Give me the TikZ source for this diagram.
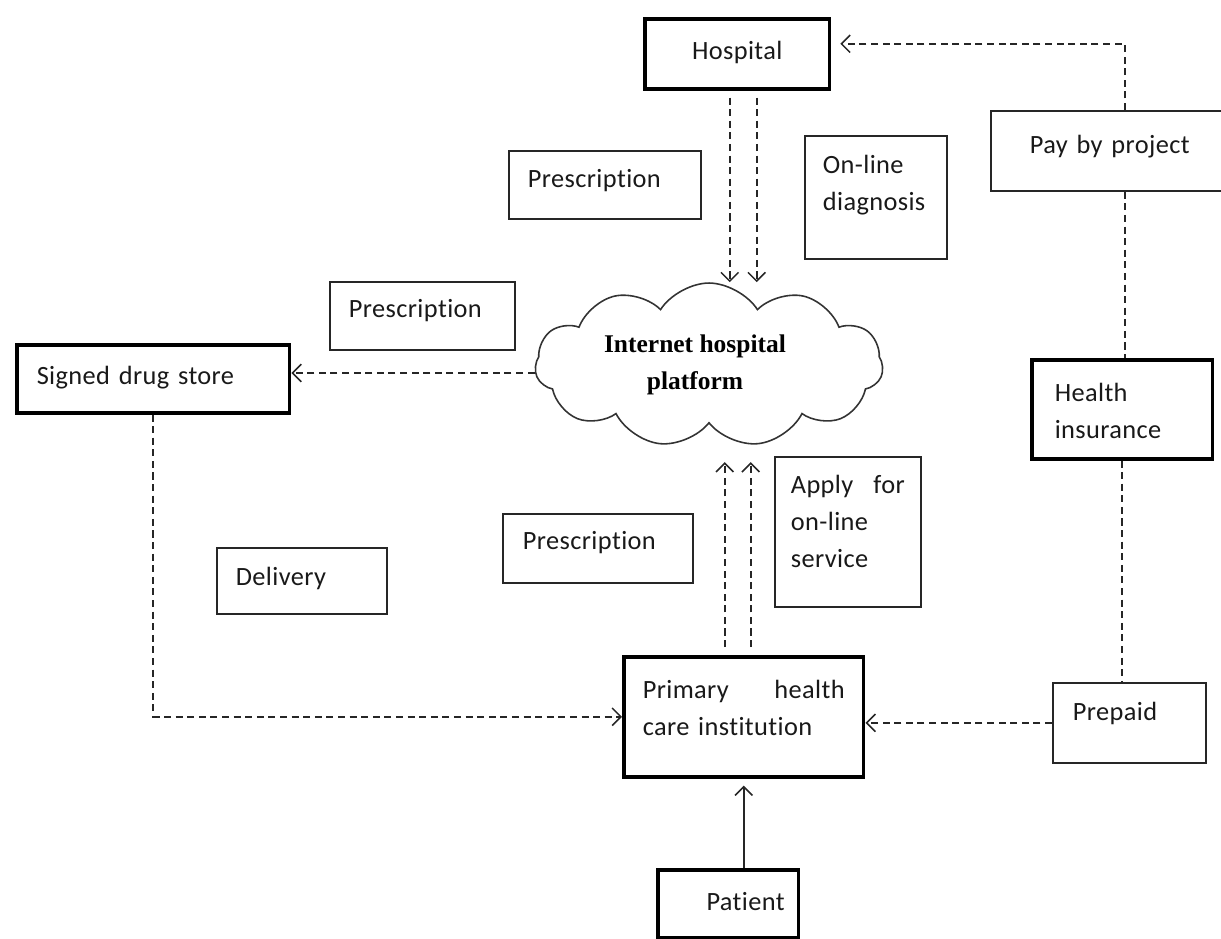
\documentclass[tikz,border=0pt]{standalone}
\usepackage{fontspec}
\newfontfamily\boxfont[LetterSpace=1.5,Ligatures=NoCommon]{Carlito}
\newfontfamily\cloudfont{Liberation Serif}
\usetikzlibrary{shapes.symbols,arrows.meta}
\begin{document}
\begin{tikzpicture}[x=0.02cm,y=-0.02cm,
  box/.style={draw=black!85, line width=1pt, anchor=north west, inner ysep=0pt,
    align=left, text=black!90,
    font={\boxfont\fontsize{15pt}{21pt}\selectfont\hyphenpenalty=10000 }},
  thickbox/.style={box, draw=black, line width=2pt},
  conn/.style={line width=0.9pt, draw=black!85, dash pattern=on 4pt off 2.6pt},
  dl/.style={conn, -{Straight Barb[length=5pt,width=10pt]}},
  sl/.style={line width=0.9pt, draw=black!85, -{Straight Barb[length=5pt,width=10pt]}}
]
\clip (0,0) rectangle (1221,938);

% boxes
\node[thickbox, align=center, inner xsep=0pt, text width=3.70cm, text height=0.82cm, text depth=0.58cm] (hosp) at (643,17) {Hospital};
\node[box, inner xsep=0.78cm, text width=3.44cm, text height=0.86cm, text depth=0.74cm] (pay) at (990,110) {Pay by project};
\node[box, inner xsep=0.38cm, text width=3.08cm, text height=0.74cm, text depth=0.62cm] (presa) at (508,150) {Prescription};
\node[box, inner xsep=0.36cm, text width=2.12cm, text height=0.76cm, text depth=1.70cm] (diag) at (804,135) {On-line\\diagnosis};
\node[box, inner xsep=0.38cm, text width=2.94cm, text height=0.72cm, text depth=0.64cm] (presb) at (329,281) {Prescription};
\node[thickbox, inner xsep=0.40cm, text width=4.66cm, text height=0.80cm, text depth=0.56cm] (drug) at (15,343) {Signed drug store};
\node[thickbox, inner xsep=0.46cm, text width=2.70cm, text height=0.84cm, text depth=1.14cm] (health) at (1030,358) {Health\\insurance};
\node[box, inner xsep=0.38cm, text width=2.64cm, text height=0.76cm, text depth=0.56cm] (deliv) at (216,547) {Delivery};
\node[box, inner xsep=0.40cm, text width=3.00cm, text height=0.72cm, text depth=0.66cm] (presc) at (502,513) {Prescription};
\node[box, inner xsep=0.32cm, text width=2.28cm, text height=0.74cm, text depth=2.26cm] (apply) at (774,456) {Apply\hfill for\\on-line\\service};
\node[thickbox, inner xsep=0.38cm, text width=4.04cm, text height=0.84cm, text depth=1.56cm] (prim) at (622,655) {Primary\hfill health\\care institution};
\node[box, inner xsep=0.40cm, text width=2.26cm, text height=0.76cm, text depth=0.84cm] (prep) at (1052,682) {Prepaid};
\node[thickbox, align=right, inner xsep=0.28cm, text width=2.26cm, text height=0.82cm, text depth=0.54cm] (pat) at (656,868) {Patient};

% cloud
\node[cloud, cloud puffs=11, cloud puff arc=115, cloud ignores aspect, draw=black!80, line width=0.9pt,
  minimum width=6.96cm, minimum height=3.28cm, align=center,
  font={\cloudfont\bfseries\fontsize{14.5pt}{21pt}\selectfont}] (cloud) at (709,365)
  {Internet hospital\hspace*{0.56cm}\\platform\hspace*{0.56cm}};

% connectors
\draw[dl, shorten <=4pt] ([xshift=-0.15cm]hosp.south) -- ([xshift=-0.15cm]hosp.south |- cloud.north);
\draw[dl, shorten <=4pt] ([xshift=0.39cm]hosp.south) -- ([xshift=0.39cm]hosp.south |- cloud.north);
\draw[dl, shorten >=5pt] ([xshift=0.18cm]pay.north) |- ([yshift=0.2cm]hosp.east);
\draw[conn] ([xshift=0.18cm]pay.south) -- ([xshift=0.18cm]pay.south |- health.north);
\draw[conn] (health.south) -- (health.south |- prep.north);
\draw[dl] (prep.west) -- (prep.west -| prim.east);
\draw[dl] ([yshift=-0.16cm]cloud.west) -- ([yshift=-0.16cm]cloud.west -| drug.east);
\draw[dl] (drug.south) |- (prim.west);
\draw[dl, shorten <=4.5pt] ([xshift=-0.38cm]prim.north) -- ([xshift=-0.38cm,yshift=3.86cm]prim.north);
\draw[dl, shorten <=4.5pt] ([xshift=0.14cm]prim.north) -- ([xshift=0.14cm,yshift=3.86cm]prim.north);
\draw[sl, shorten >=4pt] (prim.south |- pat.north) -- (prim.south);
\end{tikzpicture}
\end{document}
